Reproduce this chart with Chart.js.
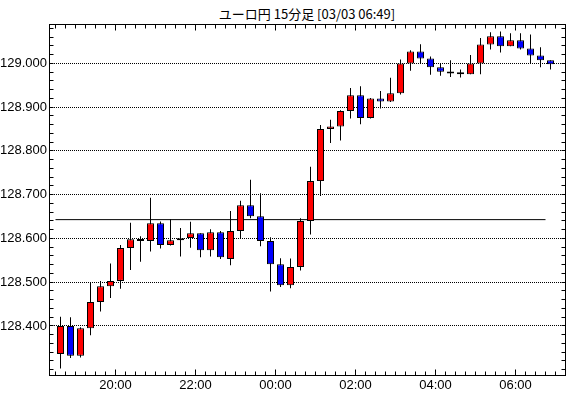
<!DOCTYPE html>
<html>
<head>
<meta charset="utf-8">
<script src="https://cdn.jsdelivr.net/npm/chart.js@4/dist/chart.umd.min.js"></script>
<style>
  html, body { margin: 0; padding: 0; background: #fff; }
  #wrap { position: relative; width: 570px; height: 398px; }
  #titre { position: absolute; left: 49px; width: 516px; top: 6px; text-align: center;
           font: 13px "Noto Sans CJK JP", sans-serif; line-height: 16px; color: #000; }
  canvas { position: absolute; left: 0; top: 0; }
</style>
</head>
<body>
<div id="wrap">
  <div id="titre">ユーロ円 15分足 [03/03 06:49]</div>
  <canvas id="chart" width="570" height="398"></canvas>
</div>
<script>
// Données des bougies (15 minutes)
const times = [
  '18:30','18:45','19:00','19:15','19:30','19:45','20:00','20:15','20:30','20:45',
  '21:00','21:15','21:30','21:45','22:00','22:15','22:30','22:45','23:00','23:15',
  '23:30','23:45','00:00','00:15','00:30','00:45','01:00','01:15','01:30','01:45',
  '02:00','02:15','02:30','02:45','03:00','03:15','03:30','03:45','04:00','04:15',
  '04:30','04:45','05:00','05:15','05:30','05:45','06:00','06:15','06:30','06:45'
];
const opens = [
  128.336,128.400,128.332,128.395,128.455,128.491,128.503,128.578,128.598,128.594,
  128.635,128.585,128.596,128.601,128.612,128.573,128.614,128.553,128.617,128.676,
  128.651,128.594,128.541,128.493,128.535,128.640,128.731,128.850,128.856,128.891,
  128.927,128.875,128.920,128.913,128.932,129.000,129.027,129.011,128.991,128.981,
  128.977,128.975,129.000,129.043,129.062,129.039,129.053,129.034,129.018,129.007
];
const highs = [
  128.421,128.420,128.397,128.500,128.503,128.543,128.585,128.636,128.605,128.693,
  128.639,128.644,128.624,128.638,128.612,128.621,128.617,128.663,128.686,128.734,
  128.703,128.603,128.555,128.554,128.646,128.764,128.859,128.871,128.893,128.944,
  128.948,128.921,128.937,128.967,129.009,129.030,129.044,129.016,129.000,129.007,
  128.986,129.019,129.058,129.071,129.073,129.069,129.069,129.066,129.037,129.007
];
const lows = [
  128.303,128.327,128.328,128.379,128.433,128.464,128.485,128.528,128.547,128.570,
  128.577,128.584,128.559,128.579,128.557,128.559,128.553,128.539,128.601,128.646,
  128.582,128.479,128.489,128.486,128.527,128.609,128.697,128.818,128.824,128.874,
  128.861,128.874,128.897,128.912,128.929,128.983,129.000,128.974,128.972,128.969,
  128.968,128.975,128.975,129.032,129.025,129.039,129.032,129.000,128.991,128.986
];
const closes = [
  128.400,128.332,128.395,128.455,128.491,128.503,128.578,128.598,128.594,128.635,
  128.585,128.596,128.600,128.612,128.573,128.614,128.557,128.617,128.676,128.651,
  128.594,128.541,128.493,128.535,128.640,128.731,128.850,128.856,128.891,128.927,
  128.875,128.920,128.913,128.932,129.000,129.027,129.011,128.991,128.981,128.977,
  128.975,129.000,129.043,129.062,129.039,129.053,129.034,129.018,129.007,128.998
];
const refLevel = 128.643;

// minutes depuis 18:00
function toMin(t) {
  let h = parseInt(t.slice(0, 2), 10);
  const m = parseInt(t.slice(3), 10);
  if (h < 18) h += 24;
  return (h - 18) * 60 + m;
}
function minLabel(v) {
  const h = (18 + Math.floor(v / 60)) % 24;
  return (h < 10 ? '0' : '') + h + ':00';
}
function isMajor(v) {
  return v > 128.35 && Math.abs(v * 10 - Math.round(v * 10)) < 1e-6;
}

const slot = 15;
const wicks = times.map((t, i) => ({ x: toMin(t) + slot / 2, y: [lows[i], highs[i]] }));
const bodies = times.map((t, i) => ({ x: toMin(t) + slot / 2, y: [opens[i], closes[i]] }));
const bodyColors = times.map((t, i) => closes[i] >= opens[i] ? '#ff0000' : '#0000ff');
const refLine = [
  { x: toMin(times[0]), y: refLevel },
  { x: toMin(times[times.length - 1]), y: refLevel }
];

const axisFont = { family: '"Liberation Sans Narrow", "Liberation Sans", sans-serif', size: 13 };

// cadre et graduations intérieures
const cadre = {
  id: 'cadre',
  afterDraw(chart) {
    const ctx = chart.ctx;
    const a = chart.chartArea;
    const xs = chart.scales.x, ys = chart.scales.y;
    const L = Math.floor(a.left) + 0.5, R = Math.floor(a.right) + 0.5;
    const T = Math.floor(a.top) + 0.5, B = Math.floor(a.bottom) + 0.5;
    ctx.save();
    ctx.strokeStyle = '#000';
    ctx.lineWidth = 1;
    ctx.beginPath();
    for (let m = toMin(times[0]); m <= xs.max; m += slot) {
      const px = Math.floor(xs.getPixelForValue(m)) + 0.5;
      const len = m % 120 === 0 ? 6 : 4;
      ctx.moveTo(px, B); ctx.lineTo(px, B - len);
      ctx.moveTo(px, T); ctx.lineTo(px, T + len);
    }
    for (let k = Math.ceil(ys.min * 50); k <= Math.floor(ys.max * 50); k++) {
      const py = Math.floor(ys.getPixelForValue(k / 50)) + 0.5;
      ctx.moveTo(L, py); ctx.lineTo(L + 4, py);
      ctx.moveTo(R, py); ctx.lineTo(R - 4, py);
    }
    ctx.stroke();
    ctx.strokeRect(L, T, R - L, B - T);
    ctx.restore();
  }
};

const ctx = document.getElementById('chart').getContext('2d');
new Chart(ctx, {
  type: 'bar',
  data: {
    datasets: [
      { type: 'bar', data: bodies, backgroundColor: bodyColors, borderColor: '#000', borderWidth: 1,
        borderSkipped: false, barThickness: 7, grouped: false, inflateAmount: 0, minBarLength: 2, order: 0 },
      { type: 'bar', data: wicks, backgroundColor: '#000', borderWidth: 0,
        barThickness: 1, grouped: false, inflateAmount: 0, order: 1 },
      { type: 'line', data: refLine, borderColor: '#000', borderWidth: 1, pointRadius: 0, order: 2 }
    ]
  },
  options: {
    responsive: false,
    animation: false,
    layout: { padding: { top: 24, right: 5, left: 0, bottom: 0 } },
    plugins: { legend: { display: false }, tooltip: { enabled: false }, title: { display: false } },
    scales: {
      x: {
        type: 'linear',
        offset: false,
        min: 20.25,
        max: 794.25,
        afterFit: function (s) { s.height = 23; },
        grid: { display: false, drawTicks: false },
        border: { display: true, color: '#000', width: 1 },
        ticks: {
          stepSize: 120,
          includeBounds: false,
          autoSkip: false,
          maxRotation: 0,
          padding: 3,
          color: '#000',
          font: axisFont,
          callback: v => (v % 120 === 0 ? minLabel(v) : null)
        }
      },
      y: {
        min: 128.288,
        max: 129.09,
        afterFit: function (s) { s.width = 49; },
        grid: { drawTicks: false, color: '#000', lineWidth: 1 },
        border: { display: true, color: '#000', width: 1, dash: [1, 1] },
        ticks: {
          stepSize: 0.1,
          padding: 2,
          color: '#000',
          font: axisFont,
          callback: v => (isMajor(v) ? v.toFixed(3) : null)
        }
      }
    }
  },
  plugins: [cadre]
});
</script>
</body>
</html>
